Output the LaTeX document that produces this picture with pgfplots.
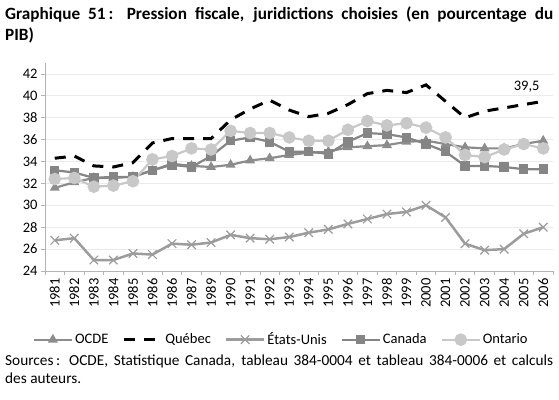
\documentclass[border=0pt]{standalone}
\usepackage{fontspec}
\setmainfont{Carlito}
\usepackage{pgfplots}
\pgfplotsset{compat=1.18}
\definecolor{ocde}{HTML}{8C8C8C}
\definecolor{usa}{HTML}{9C9C9C}
\definecolor{can}{HTML}{858585}
\definecolor{ont}{HTML}{C8C8C8}
\definecolor{axisgray}{HTML}{B4B4B4}
\definecolor{gridgray}{HTML}{EBEBEB}
\begin{document}
\begin{tikzpicture}[x=1pt,y=1pt]
\useasboundingbox (0,0) rectangle (559,399);
\node[anchor=base west,inner sep=0pt,font=\fontsize{17.2}{19}\selectfont\bfseries] at (5,379)
  {\makebox[548pt][s]{Graphique 51\,: Pression fiscale, juridictions choisies (en pourcentage du}};
\node[anchor=base west,inner sep=0pt,font=\fontsize{17.2}{19}\selectfont\bfseries] at (5,358) {PIB)};
\node[anchor=base west,inner sep=0pt,font=\fontsize{15.3}{17}\selectfont] at (5,34)
  {\makebox[548pt][s]{Sources\,: OCDE, Statistique Canada, tableau 384-0004 et tableau 384-0006 et calculs}};
\node[anchor=base west,inner sep=0pt,font=\fontsize{15.3}{17}\selectfont] at (5,16) {des auteurs.};
\begin{axis}[
  at={(45pt,128pt)}, anchor=south west,
  scale only axis, width=508pt, height=208pt,
  xmin=-0.5, xmax=25.5, ymin=24, ymax=43,
  axis x line*=bottom, axis y line*=left,
  axis line style={axisgray, line width=0.8pt},
  xtick={0,...,25},
  xticklabels={1981,1982,1983,1984,1985,1986,1986,1987,1989,1990,1991,1992,1993,1994,1995,1996,1997,1998,1999,2000,2001,2002,2003,2004,2005,2006},
  minor xtick={-0.5,0.5,...,25.5},
  major x tick style={draw=none},
  minor x tick style={axisgray, line width=0.8pt},
  ytick={24,26,...,42},
  major y tick style={axisgray, line width=0.8pt},
  tick align=outside,
  major tick length=4pt, minor tick length=4pt,
  ymajorgrids, major grid style={gridgray, line width=0.8pt},
  x tick label style={rotate=90, anchor=east, font=\fontsize{14.5}{15}\selectfont},
  y tick label style={font=\fontsize{14.5}{15}\selectfont},
  /pgf/number format/assume math mode=true,
  legend columns=5,
  legend style={at={(0.465,-0.33)}, anchor=center, draw=none, fill=none,
    font=\fontsize{14.5}{15}\selectfont,
    /tikz/every even column/.append style={column sep=12pt}},
  legend image code/.code={\draw[mark repeat=2,mark phase=2] plot coordinates {(0pt,0pt)(19pt,0pt)(38pt,0pt)};},
]
\addplot[ocde, line width=2.2pt, mark=triangle*, mark size=3.6pt, mark options={solid}] coordinates {
(0,31.6)(1,32.1)(2,32.5)(3,32.5)(4,32.6)(5,33.2)(6,33.8)(7,33.6)(8,33.5)(9,33.7)(10,34.1)(11,34.3)(12,34.6)(13,34.8)(14,34.9)(15,35.3)(16,35.4)(17,35.5)(18,35.8)(19,35.9)(20,35.6)(21,35.3)(22,35.2)(23,35.2)(24,35.6)(25,35.9)};
\addlegendentry{OCDE}
\addplot[black, line width=3pt, dash pattern=on 11pt off 9pt] coordinates {
(0,34.3)(1,34.5)(2,33.6)(3,33.5)(4,33.9)(5,35.7)(6,36.1)(7,36.1)(8,36.1)(9,37.8)(10,38.8)(11,39.6)(12,38.7)(13,38.1)(14,38.4)(15,39.2)(16,40.2)(17,40.5)(18,40.3)(19,41.0)(20,39.5)(21,38.0)(22,38.6)(23,38.9)(24,39.2)(25,39.5)};
\addlegendentry{Québec}
\addplot[usa, line width=2.5pt, mark=x, mark size=6pt, mark options={solid, line width=1.2pt}] coordinates {
(0,26.8)(1,27.0)(2,25.0)(3,25.0)(4,25.6)(5,25.5)(6,26.5)(7,26.4)(8,26.6)(9,27.3)(10,27.0)(11,26.9)(12,27.1)(13,27.5)(14,27.8)(15,28.3)(16,28.75)(17,29.2)(18,29.4)(19,30.0)(20,28.9)(21,26.5)(22,25.9)(23,26.0)(24,27.4)(25,28.0)};
\addlegendentry{États-Unis}
\addplot[can, line width=2.2pt, mark=square*, mark size=3.6pt, mark options={solid}] coordinates {
(0,33.2)(1,33.0)(2,32.5)(3,32.6)(4,32.6)(5,33.2)(6,33.7)(7,33.5)(8,34.5)(9,35.9)(10,36.2)(11,35.8)(12,34.9)(13,34.9)(14,34.7)(15,35.8)(16,36.6)(17,36.5)(18,36.2)(19,35.6)(20,34.9)(21,33.6)(22,33.6)(23,33.5)(24,33.3)(25,33.3)};
\addlegendentry{Canada}
\addplot[ont, line width=2.2pt, mark=*, mark size=5.2pt, mark options={solid}] coordinates {
(0,32.4)(1,32.5)(2,31.7)(3,31.8)(4,32.2)(5,34.2)(6,34.5)(7,35.2)(8,35.1)(9,36.8)(10,36.6)(11,36.6)(12,36.2)(13,35.9)(14,35.9)(15,36.9)(16,37.7)(17,37.3)(18,37.5)(19,37.1)(20,36.2)(21,34.6)(22,34.4)(23,35.1)(24,35.6)(25,35.2)};
\addlegendentry{Ontario}
\node[font=\fontsize{14.5}{15}\selectfont] at (axis cs:24.15,40.8) {39,5};
\end{axis}
\end{tikzpicture}
\end{document}
